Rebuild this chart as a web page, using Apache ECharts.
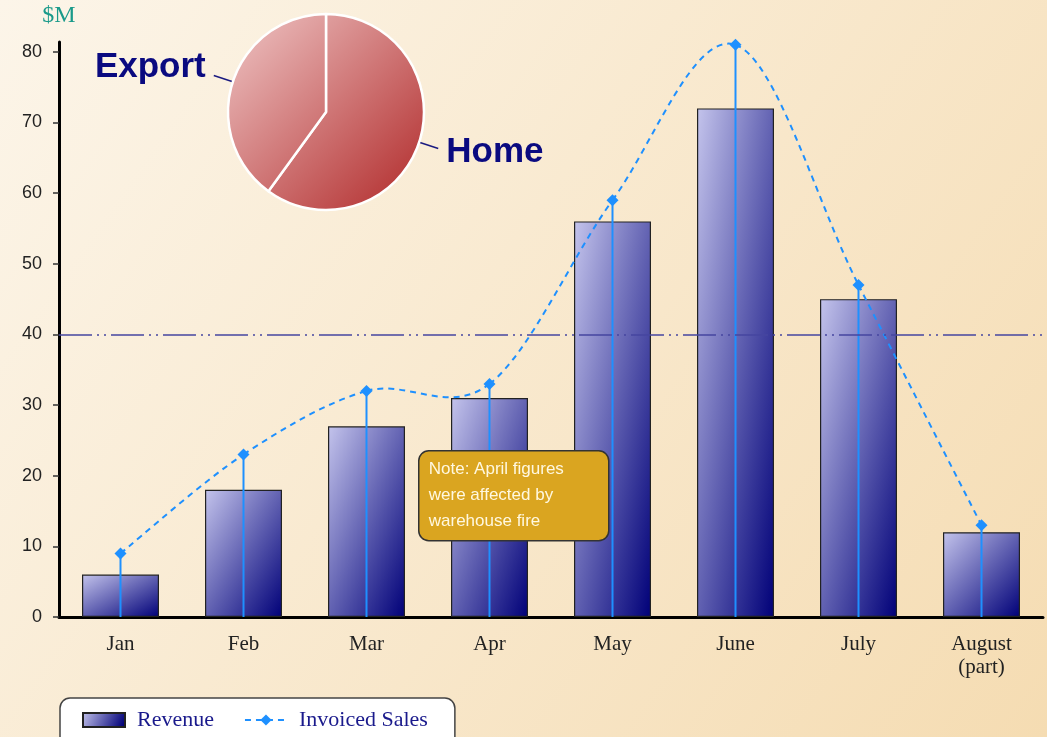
<!DOCTYPE html>
<html>
<head>
<meta charset="utf-8">
<title>Revenue vs Invoiced Sales</title>
<script src="https://cdn.jsdelivr.net/npm/echarts@6/dist/echarts.min.js"></script>
<style>
  html, body { margin: 0; padding: 0; }
  #main { width: 1047px; height: 737px; }
</style>
</head>
<body>
<div id="main"></div>
<script>
// chart data
const months = ['Jan', 'Feb', 'Mar', 'Apr', 'May', 'June', 'July', 'August\n(part)'];
const revenue = [6, 18, 27, 31, 56, 72, 45, 12];
const invoiced = [9, 23, 32, 33, 59, 81, 47, 13];
const yTicks = [0, 10, 20, 30, 40, 50, 60, 70, 80];
const target = 40;
const split = [
  { name: 'Home', value: 60 },
  { name: 'Export', value: 40 }
];

const chart = echarts.init(document.getElementById('main'));

const BLUE = '#1e90ff';
const DASH = [6, 5];

// bar fill: diagonal gradient in box units (like an svg objectBoundingBox gradient)
const BAR_W = 77;
const PX_PER_UNIT = 575 / 81.4;
function barFill(v) {
  const w = BAR_W, h = Math.max(v * PX_PER_UNIT, 1);
  const x2 = 2 / (1 + (w * w) / (h * h));
  const y2 = 2 / (1 + (h * h) / (w * w));
  return new echarts.graphic.LinearGradient(0, 0, x2, y2, [
    { offset: 0, color: '#c4c4ec' },
    { offset: 1, color: '#000078' }
  ]);
}

// catmull-rom segment between point i and i+1
function splineSegment(params, api) {
  const i = params.dataIndex;
  const n = invoiced.length;
  if (i >= n - 1) return null;
  const pt = j => api.coord([Math.max(0, Math.min(n - 1, j)), invoiced[Math.max(0, Math.min(n - 1, j))]]);
  const p0 = pt(i - 1), p1 = pt(i), p2 = pt(i + 1), p3 = pt(i + 2);
  const c1 = [p1[0] + (p2[0] - p0[0]) / 6, p1[1] + (p2[1] - p0[1]) / 6];
  const c2 = [p2[0] - (p3[0] - p1[0]) / 6, p2[1] - (p3[1] - p1[1]) / 6];
  return {
    type: 'bezierCurve',
    shape: { x1: p1[0], y1: p1[1], cpx1: c1[0], cpy1: c1[1], cpx2: c2[0], cpy2: c2[1], x2: p2[0], y2: p2[1] },
    style: { stroke: BLUE, lineWidth: 2, fill: null, lineDash: DASH }
  };
}

const option = {
  backgroundColor: new echarts.graphic.LinearGradient(0, 0, 1, 1, [
    { offset: 0, color: '#fcf5e9' },
    { offset: 1, color: '#f5dcb2' }
  ]),
  animation: false,
  grid: { left: 59, right: 4, top: 42, bottom: 120 },
  legend: {
    left: 60,
    top: 698,
    data: [
      { name: 'Revenue', icon: 'rect' },
      { name: 'Invoiced Sales', lineStyle: { color: BLUE, width: 2, type: DASH, opacity: 1 } }
    ],
    itemWidth: 42,
    itemHeight: 14,
    itemGap: 30,
    backgroundColor: '#ffffff',
    borderColor: '#444',
    borderWidth: 1.5,
    borderRadius: 10,
    padding: [11, 27, 30, 22],
    textStyle: {
      fontFamily: 'Liberation Serif',
      fontSize: 22,
      color: '#1a1a8c',
      padding: [0, 0, 0, 7]
    }
  },
  xAxis: {
    type: 'category',
    data: months,
    axisLine: { lineStyle: { color: '#000', width: 3 } },
    axisTick: { alignWithLabel: true, length: 8, lineStyle: { color: '#444', width: 1.5 } },
    axisLabel: {
      margin: 16,
      fontFamily: 'Liberation Serif',
      fontSize: 21,
      lineHeight: 23,
      color: '#222'
    }
  },
  yAxis: {
    type: 'value',
    min: 0,
    max: 81.4,
    interval: 10,
    name: '$M',
    nameGap: 14,
    nameTextStyle: { fontFamily: 'Liberation Serif', fontSize: 24, color: '#1a9a8a' },
    splitLine: { show: false },
    axisLine: { show: true, lineStyle: { color: '#000', width: 3 } },
    axisTick: { show: true, length: 6, customValues: yTicks, lineStyle: { color: '#333', width: 1.5 } },
    axisLabel: {
      customValues: yTicks,
      margin: 17,
      fontFamily: 'Liberation Sans',
      fontSize: 18,
      color: '#222'
    }
  },
  series: [
    {
      name: 'Revenue',
      type: 'bar',
      data: revenue.map(v => ({ value: v, itemStyle: { color: barFill(v) } })),
      barWidth: BAR_W,
      itemStyle: { color: barFill(10), borderColor: '#222', borderWidth: 1.2 },
      z: 2,
      markLine: {
        silent: true,
        symbol: 'none',
        label: { show: false },
        lineStyle: { color: '#4646a0', width: 1.5, type: [33, 5, 2, 5, 2, 5] },
        data: [{ yAxis: target }]
      }
    },
    {
      name: 'drops',
      type: 'custom',
      data: invoiced.map((v, i) => [i, v]),
      z: 3,
      renderItem: function (params, api) {
        const top = api.coord([api.value(0), api.value(1)]);
        const base = api.coord([api.value(0), 0]);
        return {
          type: 'line',
          shape: { x1: base[0], y1: base[1], x2: top[0], y2: top[1] },
          style: { stroke: BLUE, lineWidth: 2 }
        };
      }
    },
    {
      name: 'curve',
      type: 'custom',
      data: invoiced.map((v, i) => [i, v]),
      z: 4,
      silent: true,
      renderItem: splineSegment
    },
    {
      name: 'Invoiced Sales',
      type: 'line',
      data: invoiced,
      symbol: 'diamond',
      symbolSize: 12,
      itemStyle: { color: BLUE },
      lineStyle: { color: BLUE, width: 2, type: DASH, opacity: 0 },
      z: 5
    },
    {
      name: 'Split',
      type: 'pie',
      center: [326, 112],
      radius: 98,
      startAngle: 90,
      clockwise: true,
      avoidLabelOverlap: false,
      data: split,
      itemStyle: {
        color: {
          type: 'linear', x: 228, y: 14, x2: 424, y2: 210, global: true,
          colorStops: [
            { offset: 0, color: '#efc6c6' },
            { offset: 1, color: '#b02828' }
          ]
        },
        borderColor: '#ffffff',
        borderWidth: 2.5
      },
      label: {
        show: true,
        position: 'outside',
        fontFamily: 'Liberation Sans',
        fontWeight: 'bold',
        fontSize: 35,
        color: '#0a0a80',
        distanceToLabelLine: 8
      },
      labelLine: {
        show: true,
        length: 20,
        length2: 0,
        lineStyle: { color: '#1a1a80', width: 1.5 }
      },
      labelLayout: function (params) {
        return { dy: params.dataIndex === 1 ? -8 : 4 };
      },
      emphasis: { disabled: true },
      z: 6
    }
  ],
  graphic: [
    {
      type: 'group',
      left: 418,
      top: 450,
      z: 100,
      children: [
        {
          type: 'rect',
          z: 100,
          shape: { x: 0, y: 0, width: 190, height: 90, r: 10 },
          style: { fill: '#daa520', stroke: '#333', lineWidth: 1.5 }
        },
        {
          type: 'text',
          z: 101,
          x: 10,
          y: 6,
          style: {
            text: 'Note: April figures\nwere affected by\nwarehouse fire',
            fill: '#fff8e0',
            font: '17px "Liberation Sans"',
            lineHeight: 26
          }
        }
      ]
    }
  ]
};

chart.setOption(option);
</script>
</body>
</html>
